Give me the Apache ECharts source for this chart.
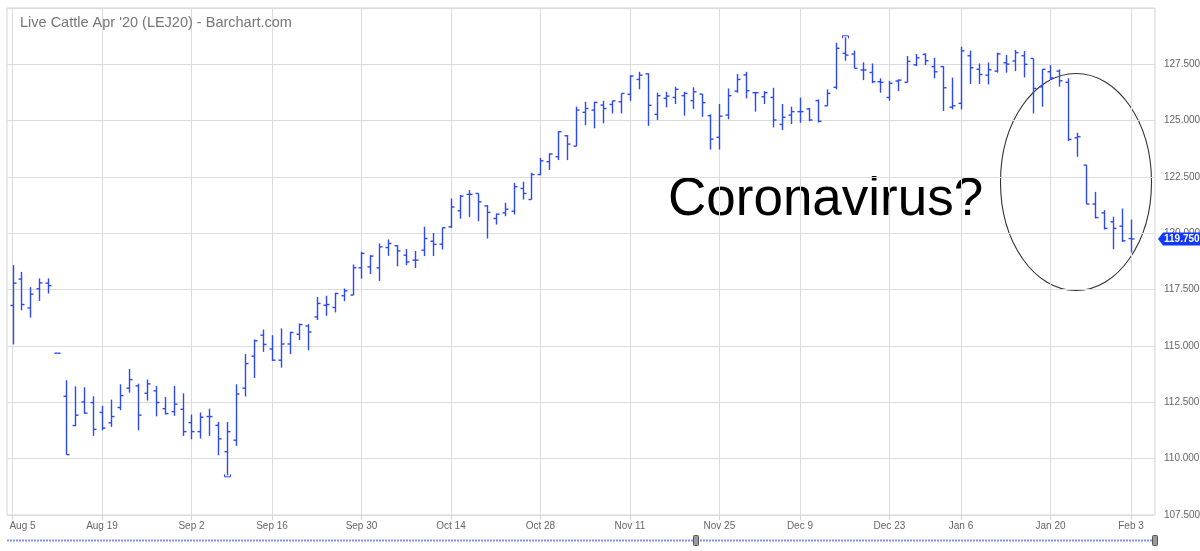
<!DOCTYPE html>
<html><head><meta charset="utf-8">
<script src="https://cdn.jsdelivr.net/npm/echarts@6/dist/echarts.min.js"></script>
<style>html,body{margin:0;padding:0;background:#fff}#c{width:1200px;height:551px}</style>
</head><body><div id="c"></div>
<script>
const dates = [
'2019-08-05','2019-08-06','2019-08-07','2019-08-08','2019-08-09','2019-08-12','2019-08-13','2019-08-14','2019-08-15','2019-08-16',
'2019-08-19','2019-08-20','2019-08-21','2019-08-22','2019-08-23','2019-08-26','2019-08-27','2019-08-28','2019-08-29','2019-08-30',
'2019-09-03','2019-09-04','2019-09-05','2019-09-06','2019-09-09','2019-09-10','2019-09-11','2019-09-12','2019-09-13','2019-09-16',
'2019-09-17','2019-09-18','2019-09-19','2019-09-20','2019-09-23','2019-09-24','2019-09-25','2019-09-26','2019-09-27','2019-09-30',
'2019-10-01','2019-10-02','2019-10-03','2019-10-04','2019-10-07','2019-10-08','2019-10-09','2019-10-10','2019-10-11','2019-10-14',
'2019-10-15','2019-10-16','2019-10-17','2019-10-18','2019-10-21','2019-10-22','2019-10-23','2019-10-24','2019-10-25','2019-10-28',
'2019-10-29','2019-10-30','2019-10-31','2019-11-01','2019-11-04','2019-11-05','2019-11-06','2019-11-07','2019-11-08','2019-11-11',
'2019-11-12','2019-11-13','2019-11-14','2019-11-15','2019-11-18','2019-11-19','2019-11-20','2019-11-21','2019-11-22','2019-11-25',
'2019-11-26','2019-11-27','2019-11-29','2019-12-02','2019-12-03','2019-12-04','2019-12-05','2019-12-06','2019-12-09','2019-12-10',
'2019-12-11','2019-12-12','2019-12-13','2019-12-16','2019-12-17','2019-12-18','2019-12-19','2019-12-20','2019-12-23','2019-12-24',
'2019-12-26','2019-12-27','2019-12-30','2019-12-31','2020-01-02','2020-01-03','2020-01-06','2020-01-07','2020-01-08','2020-01-09',
'2020-01-10','2020-01-13','2020-01-14','2020-01-15','2020-01-16','2020-01-17','2020-01-21','2020-01-22','2020-01-23','2020-01-24',
'2020-01-27','2020-01-28','2020-01-29','2020-01-30','2020-01-31','2020-02-03'];

const openP = [
116.80,117.97,116.69,117.54,117.79,114.68,112.77,111.47,112.52,112.49,
112.05,111.59,112.27,113.13,113.23,112.90,113.01,112.22,112.09,112.19,
111.60,111.20,111.87,111.48,110.31,110.82,113.13,114.55,115.48,114.87,
114.37,115.09,115.52,115.89,116.29,116.81,116.71,117.23,117.26,118.47,
118.51,118.47,119.37,119.45,119.03,118.81,119.25,119.65,119.52,120.29,
121.00,121.73,121.77,121.22,120.66,120.91,120.98,121.99,121.50,122.61,
123.18,123.40,124.33,123.87,125.37,125.47,125.69,125.72,125.84,126.17,
126.83,127.08,125.28,125.99,126.03,126.11,125.89,126.18,125.22,124.26,
125.25,126.31,127.03,126.24,126.06,126.03,124.83,125.25,125.40,125.52,
125.89,125.66,126.48,127.99,127.96,127.25,127.14,126.73,126.03,126.76,
126.70,127.48,127.94,127.40,127.40,125.60,125.77,127.88,127.28,127.02,
127.20,127.57,127.65,127.88,127.76,126.50,127.17,127.20,126.70,124.24,
123.03,121.30,120.91,120.51,120.32,119.77];

const highP = [
118.59,118.29,117.61,118.00,118.00,114.68,113.48,113.21,113.17,112.77,
112.34,112.62,113.30,113.98,113.33,113.51,113.23,112.74,113.23,112.90,
111.96,112.05,112.22,111.63,111.63,113.30,114.64,115.29,115.73,115.48,
115.78,115.63,116.00,115.97,117.18,117.23,117.36,117.55,118.62,119.18,
119.03,119.55,119.73,119.48,119.30,119.22,120.29,120.02,120.26,121.55,
121.70,121.92,121.77,121.25,120.88,121.36,122.24,122.29,122.69,123.35,
123.55,124.54,124.36,125.62,125.84,125.84,125.88,125.88,126.21,127.02,
127.17,127.10,126.24,126.28,126.51,126.28,126.48,126.18,125.28,125.74,
126.43,127.07,127.17,126.28,126.31,126.46,125.74,125.62,126.02,125.57,
125.94,126.39,128.46,128.70,128.11,127.59,127.54,126.88,126.77,126.83,
127.87,127.96,127.99,127.79,127.42,126.91,128.28,128.11,127.54,127.58,
128.02,127.91,128.14,128.09,127.76,127.28,127.47,127.28,126.88,124.46,
123.03,121.84,121.03,120.74,121.10,120.61];

const lowP = [
115.07,116.58,116.26,117.00,117.33,114.68,110.18,111.44,111.99,111.01,
111.26,111.41,112.15,112.93,111.26,112.58,111.88,111.96,111.90,111.01,
110.86,110.89,111.01,110.15,109.26,110.57,112.76,113.58,114.74,114.34,
114.04,114.64,115.26,114.81,116.15,116.34,116.49,116.99,117.26,117.99,
118.19,117.89,119.00,118.54,118.59,118.46,118.99,118.99,119.28,120.24,
120.65,120.73,120.54,119.77,120.39,120.76,120.84,121.50,121.50,122.58,
122.81,123.25,123.25,123.87,124.80,124.66,124.88,125.32,125.32,125.88,
126.39,124.77,125.03,125.59,125.74,125.22,125.52,125.17,123.72,123.72,
125.06,126.24,125.99,125.40,125.74,124.70,124.58,124.85,124.91,124.98,
124.92,125.66,126.39,127.66,127.32,126.80,126.66,126.24,125.88,126.31,
126.70,127.42,127.47,126.88,125.43,125.50,125.50,126.63,126.63,126.61,
127.13,127.13,127.20,126.92,125.32,125.62,126.80,126.51,124.09,123.40,
121.30,120.66,120.17,119.30,119.62,119.15];

const closeP = [
117.79,116.84,117.30,117.80,117.68,114.68,110.18,111.93,112.02,111.30,
111.36,111.87,112.80,113.51,111.93,113.32,112.49,112.00,112.42,111.20,
111.20,111.84,111.87,110.88,111.20,112.87,114.22,115.23,115.07,114.37,
115.09,115.60,115.95,115.62,116.89,116.84,117.33,117.45,118.47,119.11,
118.99,119.40,119.55,119.22,118.73,118.81,119.77,119.51,120.25,121.17,
121.65,121.73,121.40,120.93,120.85,121.07,122.07,121.77,122.61,123.22,
123.52,124.51,123.96,125.47,125.54,125.81,125.54,125.88,126.21,126.98,
127.02,125.68,126.11,126.09,126.39,126.21,126.28,125.80,124.18,125.20,
126.11,126.83,126.33,126.24,126.24,125.03,125.15,125.40,125.40,125.03,
124.97,126.21,128.21,127.91,127.32,127.25,126.73,126.70,126.66,126.80,
127.63,127.79,127.66,127.17,126.46,125.66,128.10,127.35,127.05,127.26,
127.96,127.51,128.02,127.50,126.43,127.28,126.90,126.77,124.17,124.29,
121.30,120.70,120.22,120.22,119.67,119.75];

const tickIdx = [0, 10, 20, 29, 39, 49, 59, 69, 79, 88, 98, 106, 116, 125];
const tickLabels = ['Aug 5','Aug 19','Sep 2','Sep 16','Sep 30','Oct 14','Oct 28','Nov 11','Nov 25','Dec 9','Dec 23','Jan 6','Jan 20','Feb 3'];
const yMin = 107.5, yMax = 130, yStep = 2.5;
const titleText = "Live Cattle Apr '20 (LEJ20) - Barchart.com";
const noteText = 'Coronavirus?';

const FONT = "'Liberation Sans', Arial, sans-serif";
const BAR = '#2b48ff';

const data = dates.map((d, i) => [i, openP[i], highP[i], lowP[i], closeP[i]]);
let hiIdx = 0, loIdx = 0;
highP.forEach((v, i) => { if (v > highP[hiIdx]) hiIdx = i; });
lowP.forEach((v, i) => { if (v < lowP[loIdx]) loIdx = i; });
const lastIdx = data.length - 1;

function renderItem(params, api) {
  const idx = api.value(0);
  const pO = api.coord([idx, api.value(1)]);
  const pH = api.coord([idx, api.value(2)]);
  const pL = api.coord([idx, api.value(3)]);
  const pC = api.coord([idx, api.value(4)]);
  const x = Math.round(pO[0]) + 0.5;
  const st = { stroke: BAR, lineWidth: 1.4 };
  const kids = [
    { type: 'line', shape: { x1: x, y1: pH[1], x2: x, y2: pL[1] }, style: st },
    { type: 'line', shape: { x1: x - 3, y1: pO[1], x2: x, y2: pO[1] }, style: st },
    { type: 'line', shape: { x1: x, y1: pC[1], x2: x + 3, y2: pC[1] }, style: st }
  ];
  if (params.dataIndex === hiIdx) {
    kids.push({ type: 'polyline', shape: { points: [[x - 3, pH[1] + 1], [x - 3, pH[1] - 1.5], [x + 3, pH[1] - 1.5], [x + 3, pH[1] + 1]] }, style: { stroke: BAR, fill: null, lineWidth: 1 } });
  }
  if (params.dataIndex === loIdx) {
    kids.push({ type: 'polyline', shape: { points: [[x - 3, pL[1] - 1], [x - 3, pL[1] + 1.5], [x + 3, pL[1] + 1.5], [x + 3, pL[1] - 1]] }, style: { stroke: BAR, fill: null, lineWidth: 1 } });
  }
  if (params.dataIndex === lastIdx) {
    const R = params.coordSys.x + params.coordSys.width;
    const cy = pC[1];
    kids.push({ type: 'polygon', z2: 50, shape: { points: [[R + 3, cy], [R + 8, cy - 6.5], [R + 48, cy - 6.5], [R + 48, cy + 6.5], [R + 8, cy + 6.5]] }, style: { fill: '#1238ff' } });
    kids.push({ type: 'text', z2: 51, style: { x: R + 9, y: cy + 0.5, text: api.value(4).toFixed(3), fill: '#fff', font: 'bold 10px ' + FONT, textAlign: 'left', textVerticalAlign: 'middle' } });
  }
  return { type: 'group', children: kids };
}

const chart = echarts.init(document.getElementById('c'), null, { renderer: 'canvas' });
chart.setOption({
  animation: false,
  backgroundColor: '#fff',
  title: {
    text: titleText, left: 15, top: 10,
    textStyle: { fontSize: 14.5, fontWeight: 'normal', color: '#777', fontFamily: FONT }
  },
  grid: { left: 7, right: 45, top: 8, bottom: 36, show: true, borderColor: '#d4d4d4', borderWidth: 1, backgroundColor: 'transparent', containLabel: false, outerBoundsMode: 'none' },
  xAxis: {
    type: 'value', min: -0.615, max: 127.68,
    axisLine: { show: false },
    axisTick: { show: true, length: 5, lineStyle: { color: '#d4d4d4' }, customValues: tickIdx },
    axisLabel: {
      customValues: tickIdx, margin: 6, fontSize: 10, color: '#666', fontFamily: FONT,
      formatter: v => {
        const k = tickIdx.indexOf(Math.round(v));
        if (k < 0) return '';
        return k === 0 ? '{first|' + tickLabels[k] + '}' : tickLabels[k];
      },
      rich: { first: { padding: [0, 0, 0, 20], fontSize: 10, color: '#666', fontFamily: FONT } }
    },
    splitLine: { show: true, lineStyle: { color: '#dcdcdc', width: 1 } }
  },
  yAxis: {
    type: 'value', position: 'right', min: yMin, max: yMax, interval: yStep,
    axisLine: { show: false }, axisTick: { show: false },
    axisLabel: { margin: 9, fontSize: 10, color: '#666', fontFamily: FONT,
      formatter: v => v > yMax - 0.5 ? '' : v.toFixed(3) },
    splitLine: { show: true, lineStyle: { color: '#dcdcdc', width: 1 } }
  },
  series: [{
    type: 'custom', clip: false, renderItem: renderItem, data: data,
    encode: { x: 0, y: [1, 2, 3, 4] }, z: 5
  }],
  graphic: [
    { type: 'text', left: 668, top: 174, style: { text: noteText, fill: '#000', font: '53px ' + FONT } },
    { type: 'ellipse', shape: { cx: 1076, cy: 182, rx: 75.5, ry: 108.5 }, style: { fill: null, stroke: '#333', lineWidth: 1.1 } },
    { type: 'line', shape: { x1: 7, y1: 540.5, x2: 1155, y2: 540.5 }, style: { stroke: '#7d93f7', lineWidth: 2, lineDash: [2, 1] } },
    { type: 'rect', shape: { x: 693.5, y: 535.5, width: 5, height: 10, r: 1 }, style: { fill: '#9a9a9a', stroke: '#555', lineWidth: 1 } },
    { type: 'rect', shape: { x: 1152.5, y: 535.5, width: 5, height: 10, r: 1 }, style: { fill: '#9a9a9a', stroke: '#555', lineWidth: 1 } }
  ]
});
</script>
</body></html>
